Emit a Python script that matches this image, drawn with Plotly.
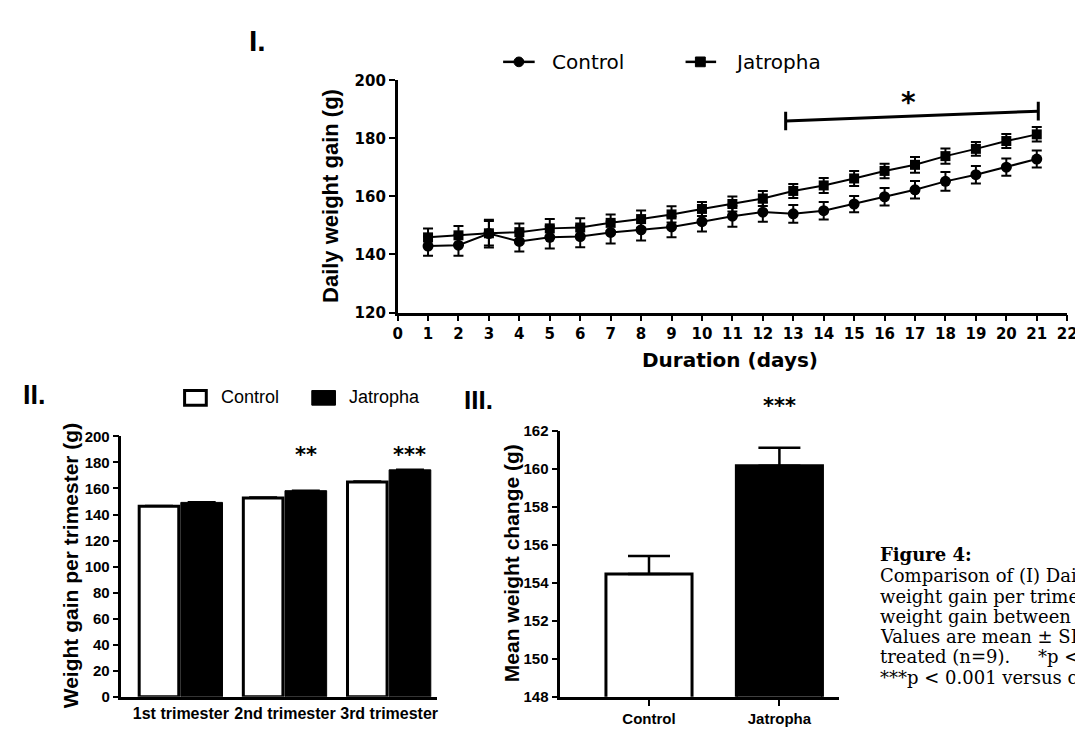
import plotly.graph_objects as go

# ---------------- data ----------------
days = list(range(1, 22))
control_daily = [142.9, 143.2, 147.2, 144.5, 145.9, 146.2, 147.6, 148.5, 149.5, 151.3, 153.2,
                 154.6, 154.0, 155.1, 157.4, 159.9, 162.3, 165.2, 167.5, 170.1, 172.9]
control_daily_err = [3.3, 3.6, 4.8, 3.5, 3.8, 3.7, 3.8, 3.7, 3.6, 3.4, 3.6,
                     3.3, 3.1, 3.0, 2.8, 3.0, 3.0, 3.2, 3.0, 3.0, 2.9]
jatropha_daily = [145.9, 146.6, 147.3, 147.7, 149.0, 149.3, 150.9, 152.2, 153.8, 155.7, 157.4,
                  159.3, 161.9, 163.8, 166.2, 168.8, 170.9, 173.9, 176.4, 179.1, 181.4]
jatropha_daily_err = [3.1, 3.2, 4.2, 3.0, 3.2, 3.2, 2.9, 3.0, 2.8, 2.4, 2.6,
                      2.6, 2.4, 2.6, 2.6, 2.5, 2.7, 2.6, 2.4, 2.4, 2.5]
sig_bar_days = [12.75, 21.05]
sig_bar_vals = [186.0, 189.4]

trimesters = ["1st trimester", "2nd trimester", "3rd trimester"]
control_tri = [146.3, 152.6, 165.0]
control_tri_err = [0.6, 0.8, 0.7]
jatropha_tri = [149.3, 158.3, 174.3]
jatropha_tri_err = [0.4, 0.4, 0.5]
tri_stars = ["", "**", "***"]

groups = ["Control", "Jatropha"]
mean_change = [154.45, 160.15]
mean_change_err = [0.95, 0.95]

W, H = 1083, 729
def PX(x): return x / W
def PY(y): return 1 - y / H

LIB = "Liberation Sans, Arial, sans-serif"
DJ = "DejaVu Sans, sans-serif"
SERIF = "DejaVu Serif, serif"

fig = go.Figure()

# ---------- Panel I ----------
fig.add_trace(go.Scatter(
    x=days, y=jatropha_daily, mode="lines+markers", name="Jatropha",
    line=dict(color="black", width=2),
    marker=dict(symbol="square", size=10, color="black"),
    error_y=dict(type="data", array=jatropha_daily_err, color="black", thickness=2, width=5),
    xaxis="x", yaxis="y", showlegend=False, cliponaxis=False))
fig.add_trace(go.Scatter(
    x=days, y=control_daily, mode="lines+markers", name="Control",
    line=dict(color="black", width=2),
    marker=dict(symbol="circle", size=11, color="black"),
    error_y=dict(type="data", array=control_daily_err, color="black", thickness=2, width=5),
    xaxis="x", yaxis="y", showlegend=False, cliponaxis=False))
# significance bar
fig.add_trace(go.Scatter(
    x=sig_bar_days, y=sig_bar_vals, mode="lines",
    line=dict(color="black", width=3),
    error_y=dict(type="constant", value=3.2, color="black", thickness=3, width=0),
    xaxis="x", yaxis="y", showlegend=False, cliponaxis=False, hoverinfo="skip"))

# ---------- Panel II ----------
tri_x = [0, 1, 2]
fig.add_trace(go.Bar(
    x=tri_x, y=control_tri, name="Control", width=0.38, offset=-0.4,
    marker=dict(color="white", line=dict(color="black", width=3)),
    error_y=dict(type="data", array=control_tri_err, arrayminus=[0, 0, 0], symmetric=False,
                 color="black", thickness=1.5, width=14),
    xaxis="x2", yaxis="y2", showlegend=False))
fig.add_trace(go.Bar(
    x=tri_x, y=jatropha_tri, name="Jatropha", width=0.4, offset=0.0,
    marker=dict(color="black", line=dict(color="black", width=1)),
    error_y=dict(type="data", array=jatropha_tri_err, arrayminus=[0, 0, 0], symmetric=False,
                 color="black", thickness=1.5, width=14),
    xaxis="x2", yaxis="y2", showlegend=False))

# ---------- Panel III ----------
fig.add_trace(go.Bar(
    x=[0, 1], y=mean_change, width=0.66,
    marker=dict(color=["white", "black"], line=dict(color="black", width=3)),
    error_y=dict(type="data", array=mean_change_err, arrayminus=[0, 0], symmetric=False,
                 color="black", thickness=2.5, width=21),
    xaxis="x3", yaxis="y3", showlegend=False))

axis_common = dict(showline=True, linecolor="black", linewidth=2.5, ticks="outside",
                   ticklen=6, tickwidth=2, tickcolor="black", showgrid=False, zeroline=False,
                   mirror=False)

fig.update_layout(
    width=W, height=H, autosize=False,
    margin=dict(l=0, r=0, t=0, b=0),
    paper_bgcolor="white", plot_bgcolor="white",
    barmode="overlay",
    xaxis=dict(**axis_common, domain=[PX(390), PX(1069)], range=[0, 22], dtick=1, tick0=0,
               anchor="y", tickangle=0,
               tickfont=dict(family=DJ, size=15, color="black", weight="bold")),
    yaxis=dict(**axis_common, domain=[PY(303), PY(65)], range=[120, 200], dtick=20,
               anchor="x", tickfont=dict(family=DJ, size=15, color="black", weight="bold")),
    xaxis2=dict(**axis_common, domain=[PX(110), PX(430)], range=[-0.57, 2.46],
                tickvals=tri_x, ticktext=trimesters, anchor="y2", tickangle=0,
                tickfont=dict(family=LIB, size=16, color="black", weight="bold")),
    yaxis2=dict(**axis_common, domain=[PY(697), PY(430)], range=[0, 200], dtick=20,
                anchor="x2", tickfont=dict(family=LIB, size=15, color="black", weight="bold")),
    xaxis3=dict(**axis_common, domain=[PX(555), PX(838)], range=[-0.68, 1.46],
                tickvals=[0, 1], ticktext=groups, anchor="y3", tickangle=0,
                tickfont=dict(family=LIB, size=15, color="black", weight="bold")),
    yaxis3=dict(**axis_common, domain=[PY(697), PY(424)], range=[148, 162], dtick=2,
                anchor="x3", tickfont=dict(family=LIB, size=15, color="black", weight="bold")),
)
fig.update_layout(xaxis2=dict(ticks=""))

ann = []
def A(text, x, y, size, family=LIB, weight="bold", angle=0, xanchor="center", yanchor="middle",
      xref="paper", yref="paper"):
    ann.append(dict(text=text, x=x, y=y, xref=xref, yref=yref, showarrow=False,
                    textangle=angle, xanchor=xanchor, yanchor=yanchor,
                    font=dict(family=family, size=size, color="black", weight=weight)))

# titles
A("Daily weight gain (g)", PX(322), PY(184), 22, angle=-90)
A("Duration (days)", PX(727), PY(352), 20, family=DJ)
A("Weight gain per trimester (g)", PX(58), PY(563), 21, angle=-90)
A("Mean weight change (g)", PX(505), PY(560), 21, angle=-90)
# panel labels
A("I.", PX(248), PY(24), 30)
A("II.", PX(22), PY(388), 27)
A("III.", PX(472), PY(393), 26)
# stars
A("*", 16.8, 192.3, 28, family=DJ, xref="x", yref="y")
for i, s in enumerate(tri_stars):
    if s:
        A(s, tri_x[i] + 0.2, PY(449), 21, family=DJ, xref="x2")
A("***", 1, PY(399), 21, family=DJ, xref="x3")
# legends text
A("Control", PX(545), PY(46), 20, family=DJ, weight="normal", xanchor="left")
A("Jatropha", PX(730), PY(46), 20, family=DJ, weight="normal", xanchor="left")
A("Control", PX(209), PY(390), 18, weight="normal", xanchor="left")
A("Jatropha", PX(339), PY(390), 18, weight="normal", xanchor="left")
# caption
A("Figure 4:", PX(877), PY(551), 18, family=SERIF, xanchor="left")
cap_lines = [
    "Comparison of (I) Daily weight gain",
    "weight gain per trimester and (III)",
    "weight gain between control and",
    "Values are mean \u00b1 SEM for control",
    "treated (n=9).",
    "***p < 0.001 versus control",
]
for i, t in enumerate(cap_lines):
    A(t, PX(877), PY(573 + 20.8 * i), 18, family=SERIF, weight="normal", xanchor="left")
A("*p < 0.05", PX(1037), PY(573 + 20.8 * 4), 18, family=SERIF, weight="normal", xanchor="left")

shapes = []
# top legend glyphs
shapes.append(dict(type="line", xref="paper", yref="paper", x0=PX(497), x1=PX(529), y0=PY(46), y1=PY(46),
                   line=dict(color="black", width=2.5)))
shapes.append(dict(type="circle", xref="paper", yref="paper", x0=PX(508), x1=PX(518), y0=PY(51), y1=PY(41),
                   fillcolor="black", line=dict(color="black", width=1)))
shapes.append(dict(type="line", xref="paper", yref="paper", x0=PX(682), x1=PX(713), y0=PY(46), y1=PY(46),
                   line=dict(color="black", width=2.5)))
shapes.append(dict(type="rect", xref="paper", yref="paper", x0=PX(692), x1=PX(702), y0=PY(51), y1=PY(41),
                   fillcolor="black", line=dict(color="black", width=1)))
# panel II legend glyphs
shapes.append(dict(type="rect", xref="paper", yref="paper", x0=PX(174), x1=PX(196), y0=PY(398), y1=PY(383),
                   fillcolor="white", line=dict(color="black", width=3)))
shapes.append(dict(type="rect", xref="paper", yref="paper", x0=PX(303), x1=PX(327), y0=PY(398), y1=PY(383),
                   fillcolor="black", line=dict(color="black", width=1)))

fig.update_layout(annotations=ann, shapes=shapes)
fig.write_html("out.html")
